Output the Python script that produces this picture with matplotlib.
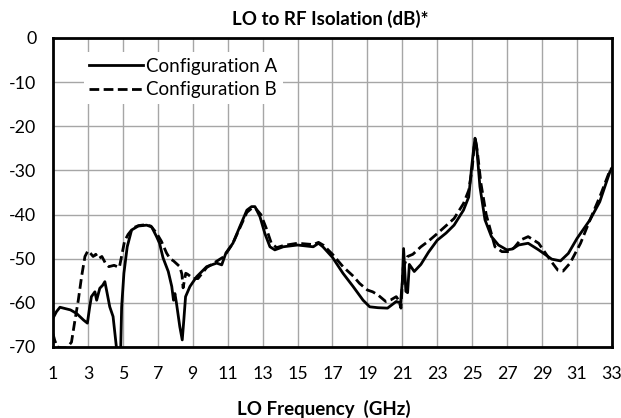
import matplotlib
matplotlib.use("Agg")
import matplotlib.pyplot as plt

plt.rcParams['font.family'] = ['Lato', 'DejaVu Sans']
plt.rcParams['axes.unicode_minus'] = False

# Configuration A (solid)
freq_a = [1.0, 1.2, 1.4, 1.7, 2.0, 2.35, 2.75, 2.97, 3.1, 3.2, 3.4, 3.5, 3.68, 3.85,
          3.97, 4.1, 4.25, 4.44, 4.63, 4.75, 4.85, 4.93, 5.06, 5.25, 5.5, 5.88, 6.36,
          6.65, 6.93, 7.1, 7.3, 7.6, 7.8, 7.9, 7.98, 8.07, 8.26, 8.4, 8.49, 8.59, 8.84,
          9.22, 9.8, 10.37, 10.66, 10.9, 11.3, 11.7, 12.1, 12.37, 12.56, 12.85, 13.13,
          13.42, 13.7, 14.18, 15.0, 15.9, 16.2, 16.45, 17.0, 17.6, 18.18, 18.75, 19.13,
          19.6, 20.15, 20.65, 20.9, 21.0, 21.07, 21.2, 21.3, 21.4, 21.68, 22.06, 22.5,
          23.0, 23.5, 23.96, 24.5, 24.8, 24.97, 25.1, 25.16, 25.25, 25.44, 25.73, 26.1,
          26.5, 26.98, 27.3, 27.65, 28.2, 28.8, 29.55, 30.05, 30.5, 31.0, 31.74, 32.3,
          32.88, 33.0]
iso_a = [-63.5, -62.0, -61.0, -61.3, -61.6, -62.4, -63.9, -64.6, -61.0, -58.6, -57.5,
         -59.4, -56.7, -56.0, -55.2, -57.8, -60.9, -63.1, -70.0, -75.0, -75.0, -61.0,
         -53.3, -47.3, -43.5, -42.6, -42.4, -42.8, -45.0, -46.5, -49.8, -52.9, -56.3,
         -59.4, -57.9, -60.1, -65.4, -68.4, -63.9, -58.6, -56.3, -54.1, -51.8, -51.0,
         -51.4, -48.7, -46.5, -42.7, -39.0, -38.2, -38.2, -40.5, -44.3, -47.3, -48.0,
         -47.3, -46.9, -47.3, -46.5, -47.3, -49.7, -53.3, -56.3, -59.4, -60.9, -61.1,
         -61.2, -59.7, -60.0, -55.0, -47.7, -57.4, -57.7, -51.3, -52.9, -51.3, -48.5,
         -45.8, -44.2, -42.4, -39.0, -36.0, -29.1, -24.5, -22.7, -24.5, -33.7, -41.2,
         -45.0, -46.9, -48.0, -47.8, -46.9, -46.5, -48.0, -50.1, -50.5, -48.8, -45.4,
         -41.2, -37.1, -30.3, -29.5]

# Configuration B (dashed)
freq_b = [1.0, 1.1, 1.25, 1.5, 1.8, 2.06, 2.26, 2.45, 2.64, 2.83, 3.0, 3.15, 3.3, 3.45,
          3.6, 3.8, 4.0, 4.2, 4.5, 4.8, 4.95, 5.1, 5.3, 5.6, 5.9, 6.3, 6.6, 6.93, 7.2,
          7.5, 7.7, 7.9, 8.26, 8.38, 8.45, 8.52, 8.6, 8.7, 9.03, 9.3, 9.8, 10.4, 10.8,
          11.3, 11.7, 12.1, 12.4, 12.6, 12.9, 13.2, 13.5, 13.8, 14.2, 15.0, 15.9, 16.2,
          16.5, 17.0, 17.6, 18.2, 18.55, 19.0, 19.3, 19.6, 20.05, 20.35, 20.65, 20.8,
          20.92, 21.05, 21.3, 21.6, 22.06, 22.5, 23.0, 23.96, 24.5, 24.8, 25.0, 25.12,
          25.2, 25.3, 25.5, 25.8, 26.3, 26.7, 27.1, 27.4, 27.75, 28.2, 28.8, 29.5, 29.9,
          30.2, 30.6, 31.2, 31.74, 32.3, 32.9, 33.0]
iso_b = [-67.0, -68.5, -70.0, -70.2, -70.2, -68.9, -63.9, -59.4, -54.0, -49.5, -48.2,
         -48.8, -49.5, -49.0, -50.0, -49.5, -51.0, -51.8, -51.5, -52.0, -49.0, -46.0,
         -44.5, -43.0, -42.5, -42.3, -42.6, -44.2, -46.0, -48.7, -50.0, -50.5, -51.8,
         -53.5, -56.6, -55.0, -53.3, -53.5, -54.5, -54.5, -52.0, -50.5, -49.5, -46.5,
         -43.0, -39.5, -38.5, -38.6, -40.0, -43.0, -46.5, -47.5, -47.0, -46.5, -46.8,
         -46.3, -47.0, -49.0, -51.8, -54.0, -55.6, -57.1, -57.5, -58.2, -59.7, -59.3,
         -58.6, -59.5, -61.2, -52.0, -49.5, -49.0, -47.3, -46.0, -44.3, -40.9, -37.5,
         -34.5, -29.5, -24.0, -23.5, -26.0, -33.0, -40.0, -47.3, -48.4, -48.4, -47.5,
         -45.8, -45.0, -46.5, -50.5, -52.6, -52.8, -51.0, -46.5, -41.2, -36.0, -29.8,
         -29.5]

x_ticks = list(range(1, 34, 2))
y_ticks = list(range(-70, 1, 10))

fig = plt.figure(figsize=(6.21, 4.18), dpi=100)
ax = fig.add_axes([0.0853, 0.1699, 0.9002, 0.7392])

ax.plot(freq_a, iso_a, color='black', lw=2.0, label='Configuration A')
ax.plot(freq_b, iso_b, color='black', lw=2.0, linestyle=(0, (3.5, 1.6)),
        label='Configuration B')

ax.set_xlim(1, 33)
ax.set_ylim(-70, 0)
ax.set_xticks(x_ticks)
ax.set_yticks(y_ticks)
ax.tick_params(length=0, labelsize=12.8)
ax.tick_params(axis='x', pad=14)
ax.tick_params(axis='y', pad=12)
ax.grid(True, color='#a6a6a6', lw=1.0)
ax.set_axisbelow(True)
for s in ax.spines.values():
    s.set_linewidth(2.0)
    s.set_color('black')

leg = ax.legend(loc='upper left', bbox_to_anchor=(0.038, 0.985), fontsize=13.5,
                frameon=True, fancybox=False, framealpha=1, edgecolor='none',
                facecolor='white', handlelength=2.85, handletextpad=0.2,
                labelspacing=0.35, borderpad=0.3)

fig.text(330 / 621, 1 - 19 / 418, 'LO to RF Isolation (dB)*', ha='center', va='center',
         fontsize=13.5, fontweight='bold')
fig.text(324 / 621, 1 - 409 / 418, 'LO Frequency  (GHz)', ha='center', va='center',
         fontsize=13.5, fontweight='bold')

fig.savefig('out.png', dpi=100)
